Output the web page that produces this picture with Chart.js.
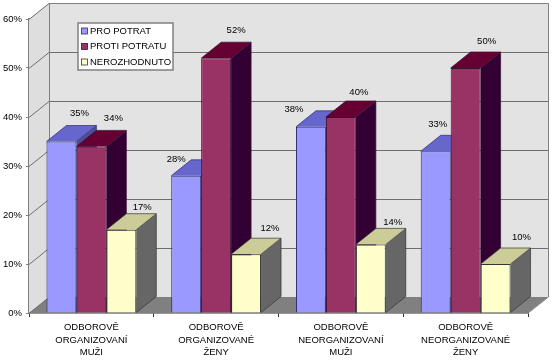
<!DOCTYPE html>
<html>
<head>
<meta charset="utf-8">
<style>
  html, body { margin: 0; padding: 0; background: #fff; }
  canvas { display: block; }
</style>
<script src="https://cdn.jsdelivr.net/npm/chart.js@4"></script>
</head>
<body>
<canvas id="myChart" width="555" height="361"></canvas>
<script>
// data
const kategorie = [
  ['ODBOROVĚ', 'ORGANIZOVANÍ', 'MUŽI'],
  ['ODBOROVĚ', 'ORGANIZOVANÉ', 'ŽENY'],
  ['ODBOROVĚ', 'NEORGANIZOVANÍ', 'MUŽI'],
  ['ODBOROVĚ', 'NEORGANIZOVANÉ', 'ŽENY']
];
const proPotrat = [35, 28, 38, 33];
const protiPotratu = [34, 52, 40, 50];
const nerozhodnuto = [17, 12, 14, 10];
const nazvySerii = ['PRO POTRAT', 'PROTI POTRATU', 'NEROZHODNUTO'];

// colours: front, top, side, edge
const barvy = [
  ['#9999FF', '#6666CC', '#4D4D99', '#2B2B6B'],
  ['#993366', '#660033', '#330033', '#3A1030'],
  ['#FFFFCC', '#CCCC99', '#666666', '#333333']
];

// where each value label sits relative to the top of its bar
const posunPopisku = [
  [[18, -28], [-10, -16], [-17, -17], [2, -27]],
  [[22, -28], [20, -28], [18, -25], [21, -27]],
  [[21, -22], [24, -26], [22, -22], [26, -27]]
];

const hloubka = { x: 20, y: 16 };
const rodina = '"Liberation Sans", Arial, sans-serif';
const pismo = '9.5px ' + rodina;

function plocha(c, body, vypln) {
  c.beginPath();
  c.moveTo(body[0][0], body[0][1]);
  for (let i = 1; i < body.length; i++) c.lineTo(body[i][0], body[i][1]);
  c.closePath();
  c.fillStyle = vypln;
  c.fill();
}

// back wall, side wall, floor and the grid
const steny = {
  id: 'steny',
  beforeDatasetsDraw(chart) {
    const c = chart.ctx;
    const a = chart.chartArea;
    const y = chart.scales.y;
    const dx = hloubka.x, dy = hloubka.y;
    c.save();
    plocha(c, [[a.left + dx, a.top - dy], [a.right + dx, a.top - dy], [a.right + dx, a.bottom - dy], [a.left + dx, a.bottom - dy]], '#E3E3E3');
    plocha(c, [[a.left, a.top], [a.left + dx, a.top - dy], [a.left + dx, a.bottom - dy], [a.left, a.bottom]], '#DEDEDE');
    plocha(c, [[a.left, a.bottom], [a.left + dx, a.bottom - dy], [a.right + dx, a.bottom - dy], [a.right, a.bottom]], '#808080');

    c.strokeStyle = '#6E6E6E';
    c.lineWidth = 1;
    y.ticks.forEach(t => {
      const py = Math.round(y.getPixelForValue(t.value)) + 0.5;
      c.beginPath();
      c.moveTo(a.left, py);
      c.lineTo(a.left + dx, py - dy);
      if (t.value > 0) c.lineTo(a.right + dx, py - dy);
      c.stroke();
    });
    c.strokeStyle = '#808080';
    c.beginPath();
    c.moveTo(a.left + dx + 0.5, a.bottom - dy);
    c.lineTo(a.left + dx + 0.5, a.top - dy + 0.5);
    c.lineTo(a.right + dx + 0.5, a.top - dy + 0.5);
    c.lineTo(a.right + dx + 0.5, a.bottom - dy);
    c.lineTo(a.right, a.bottom);
    c.stroke();

    // tops and sides of the bars, the fronts come from the library afterwards
    for (let k = 0; k < kategorie.length; k++) {
      chart.data.datasets.forEach((ds, s) => {
        const b = chart.getDatasetMeta(s).data[k];
        const l = b.x - b.width / 2, r = b.x + b.width / 2;
        plocha(c, [[r, b.y], [r + dx, b.y - dy], [r + dx, b.base - dy], [r, b.base]], barvy[s][2]);
        plocha(c, [[l, b.y], [l + dx, b.y - dy], [r + dx, b.y - dy], [r, b.y]], barvy[s][1]);
        c.strokeStyle = barvy[s][3];
        c.lineWidth = 0.7;
        c.beginPath();
        c.moveTo(l, b.y);
        c.lineTo(l + dx, b.y - dy);
        c.lineTo(r + dx, b.y - dy);
        c.lineTo(r + dx, b.base - dy);
        c.lineTo(r, b.base);
        c.moveTo(r, b.y);
        c.lineTo(r + dx, b.y - dy);
        c.stroke();
      });
    }
    c.restore();
  },
  afterDatasetsDraw(chart) {
    const c = chart.ctx;
    c.save();
    c.font = pismo;
    c.fillStyle = '#000';
    c.textAlign = 'center';
    c.textBaseline = 'middle';
    chart.data.datasets.forEach((ds, s) => {
      chart.getDatasetMeta(s).data.forEach((b, k) => {
        const p = posunPopisku[s][k];
        c.fillText(ds.data[k] + '%', b.x + p[0], b.y + p[1]);
      });
    });

    // legend box
    c.fillStyle = '#fff';
    c.fillRect(78, 23, 95, 47);
    c.strokeStyle = '#808080';
    c.lineWidth = 1.5;
    c.strokeRect(78, 23, 95, 47);
    c.textAlign = 'left';
    nazvySerii.forEach((n, s) => {
      const ly = 31 + s * 15.5;
      c.fillStyle = barvy[s][0];
      c.fillRect(81.5, ly - 3, 6, 6);
      c.strokeStyle = barvy[s][3];
      c.lineWidth = 0.8;
      c.strokeRect(81.5, ly - 3, 6, 6);
      c.fillStyle = '#000';
      c.fillText(n, 90, ly);
    });
    c.restore();
  }
};

const ctx = document.getElementById('myChart');

new Chart(ctx, {
  type: 'bar',
  data: {
    labels: kategorie,
    datasets: [
      { label: nazvySerii[0], data: proPotrat, backgroundColor: barvy[0][0], borderColor: barvy[0][3], borderWidth: 1 },
      { label: nazvySerii[1], data: protiPotratu, backgroundColor: barvy[1][0], borderColor: barvy[1][3], borderWidth: 1 },
      { label: nazvySerii[2], data: nerozhodnuto, backgroundColor: barvy[2][0], borderColor: barvy[2][3], borderWidth: 1 }
    ]
  },
  plugins: [steny],
  options: {
    responsive: false,
    animation: false,
    categoryPercentage: 0.72,
    barPercentage: 1,
    layout: { padding: { top: 19, right: 27, left: 0, bottom: 0 } },
    plugins: { legend: { display: false }, tooltip: { enabled: false } },
    scales: {
      x: {
        afterFit(s) { s.height = 48; },
        grid: { drawOnChartArea: false, drawTicks: true, tickLength: 4, color: '#333', offset: true },
        border: { color: '#333', width: 1.5 },
        ticks: {
          color: '#000',
          maxRotation: 0,
          autoSkip: false,
          padding: 4,
          font: { family: rodina, size: 9.5, lineHeight: 1.33 }
        }
      },
      y: {
        min: 0,
        max: 60,
        afterFit(s) { s.width = 29; },
        grid: { drawOnChartArea: false, drawTicks: true, tickLength: 3, color: '#808080' },
        border: { color: '#808080', width: 2 },
        ticks: {
          stepSize: 10,
          color: '#000',
          padding: 4,
          font: { family: rodina, size: 9.5 },
          callback: v => v + '%'
        }
      }
    }
  }
});
</script>
</body>
</html>
